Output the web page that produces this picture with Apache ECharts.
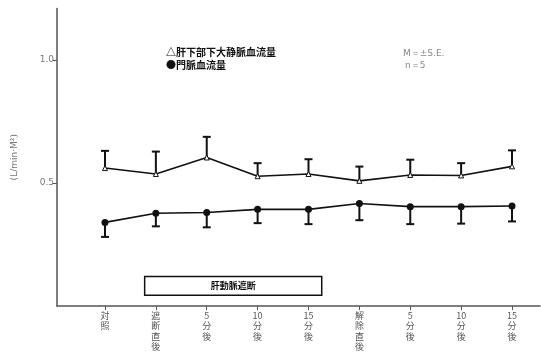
<!DOCTYPE html>
<html>
<head>
<meta charset="utf-8">
<script src="https://cdn.jsdelivr.net/npm/echarts@6/dist/echarts.min.js"></script>
<style>
  html, body { margin: 0; padding: 0; background: #fff; }
  #chart { width: 541px; height: 352px; }
</style>
</head>
<body>
<div id="chart"></div>
<script>
// Time points (stacked vertically under the axis)
const timePoints = ['対照', '遮断直後', '5分後', '10分後', '15分後', '解除直後', '5分後', '10分後', '15分後'];
// Hepatic-segment IVC flow (mean, +SE)
const ivcFlow = [0.561, 0.537, 0.604, 0.528, 0.537, 0.509, 0.533, 0.531, 0.568];
const ivcSE   = [0.070, 0.091, 0.084, 0.053, 0.060, 0.058, 0.062, 0.050, 0.065];
// Portal vein flow (mean, -SE)
const portalFlow = [0.340, 0.377, 0.380, 0.393, 0.393, 0.417, 0.404, 0.404, 0.407];
const portalSE   = [0.059, 0.053, 0.060, 0.056, 0.060, 0.068, 0.071, 0.069, 0.063];
// Hepatic artery occlusion period (x range in time-point units, y range in flow units)
const occlusionSpan = [0.78, 4.26];
const occlusionBand = [0.044, 0.12];
const yTicks = [0, 0.5, 1.0];

const idx = timePoints.map((_, i) => i);

function stackChars(s) {
  // keep multi-digit numbers on one line, stack everything else
  const parts = s.match(/\d+|./g);
  return parts.join('\n');
}

function errorSeries(means, ses, dir) {
  return {
    type: 'custom',
    z: 3,
    data: means.map((m, i) => [i, m, m + dir * ses[i]]),
    renderItem: function (params, api) {
      const p0 = api.coord([api.value(0), api.value(1)]);
      const p1 = api.coord([api.value(0), api.value(2)]);
      const hw = 4;
      const st = { stroke: '#111', lineWidth: 2 };
      return {
        type: 'group',
        children: [
          { type: 'line', shape: { x1: p0[0], y1: p0[1], x2: p1[0], y2: p1[1] }, style: st },
          { type: 'line', shape: { x1: p1[0] - hw, y1: p1[1], x2: p1[0] + hw, y2: p1[1] }, style: st }
        ]
      };
    }
  };
}

const chart = echarts.init(document.getElementById('chart'));
chart.setOption({
  animation: false,
  backgroundColor: '#fff',
  grid: { left: 57, right: 1, top: 8.5, bottom: 41 },
  xAxis: {
    type: 'value',
    min: -0.943,
    max: 8.55,
    splitLine: { show: false },
    axisLine: { show: true, onZero: false, lineStyle: { color: '#555', width: 1.5 } },
    axisTick: { show: true, customValues: idx, length: 4, lineStyle: { color: '#555' } },
    axisLabel: {
      customValues: idx,
      formatter: v => stackChars(timePoints[Math.round(v)]),
      color: '#555',
      fontSize: 9,
      lineHeight: 10.5,
      margin: 4,
      fontFamily: 'Noto Sans CJK JP'
    }
  },
  yAxis: {
    type: 'value',
    min: 0,
    max: 1.21,
    splitLine: { show: false },
    axisLine: { show: true, onZero: false, lineStyle: { color: '#555', width: 1.5 } },
    axisTick: { show: true, customValues: yTicks.slice(1), length: 4, lineStyle: { color: '#555' } },
    axisLabel: {
      customValues: yTicks.slice(1),
      formatter: v => v.toFixed(1),
      color: '#777',
      fontSize: 9,
      margin: 3,
      fontFamily: 'DejaVu Sans'
    },
    name: '(L/min·M²)',
    nameLocation: 'middle',
    nameRotate: 90,
    nameGap: 38,
    nameTextStyle: { color: '#777', fontSize: 9, fontFamily: 'DejaVu Sans' }
  },
  graphic: [
    { type: 'text', left: 166, top: 47, style: { text: '△肝下部下大静脈血流量', font: 'bold 10px "Noto Sans CJK JP"', fill: '#111' } },
    { type: 'text', left: 166, top: 60, style: { text: '●門脈血流量', font: 'bold 10px "Noto Sans CJK JP"', fill: '#111' } },
    { type: 'text', left: 403, top: 49, style: { text: 'M＝±S.E.', font: '9px "DejaVu Sans"', fill: '#888' } },
    { type: 'text', left: 405, top: 61, style: { text: 'n＝5', font: '9px "DejaVu Sans"', fill: '#888' } }
  ],
  series: [
    {
      type: 'line',
      z: 4,
      data: ivcFlow.map((v, i) => [i, v]),
      symbol: 'triangle',
      symbolSize: 5,
      itemStyle: { color: '#fff', borderColor: '#111', borderWidth: 1 },
      lineStyle: { color: '#111', width: 1.6 },
      markArea: {
        silent: true,
        itemStyle: { color: '#fff', borderColor: '#111', borderWidth: 1.5 },
        label: { show: true, position: 'inside', color: '#111', fontSize: 9, fontWeight: 'bold', fontFamily: 'Noto Sans CJK JP' },
        data: [[
          { name: '肝動脈遮断', xAxis: occlusionSpan[0], yAxis: occlusionBand[0] },
          { xAxis: occlusionSpan[1], yAxis: occlusionBand[1] }
        ]]
      }
    },
    {
      type: 'line',
      z: 4,
      data: portalFlow.map((v, i) => [i, v]),
      symbol: 'circle',
      symbolSize: 7,
      itemStyle: { color: '#111' },
      lineStyle: { color: '#111', width: 1.6 }
    },
    errorSeries(ivcFlow, ivcSE, 1),
    errorSeries(portalFlow, portalSE, -1)
  ]
});
</script>
</body>
</html>
